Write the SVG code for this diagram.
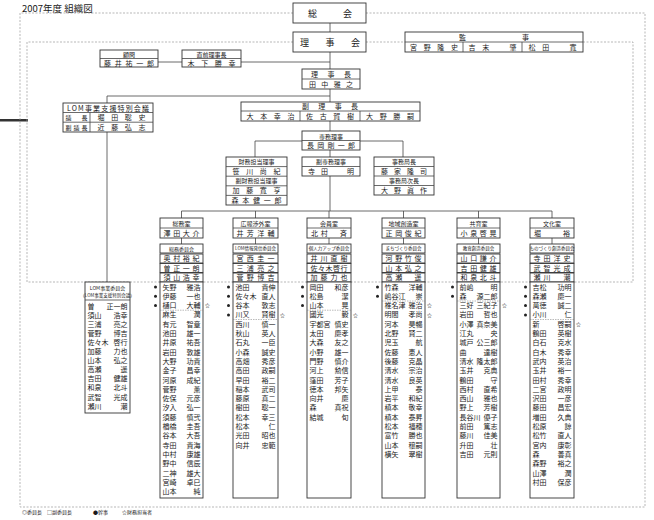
<svg xmlns="http://www.w3.org/2000/svg" width="654" height="520" viewBox="0 0 654 520">
<style>
.t{font-family:"Noto Sans CJK JP","Noto Sans",sans-serif;fill:#1a1a1a}
.f9{font-size:9px}.f7{font-size:7px}.f6{font-size:6px}.f5{font-size:5px}.f4{font-size:4.5px}
.c{text-anchor:middle}.e{text-anchor:end}
.b{fill:#fff;stroke:#333;stroke-width:0.9}
.ln{stroke:#444;stroke-width:0.8;fill:none}
.dl{stroke:#999;stroke-width:0.7;stroke-dasharray:2 1.5;fill:none}
.sep{stroke:#777;stroke-width:0.5;stroke-dasharray:1.5 1;fill:none}
.bu{fill:#222}
</style>
<rect width="654" height="520" fill="#fff"/>
<text class="t" x="22" y="11.5" font-size="9.5" fill="#333">2007年度 組織図</text>
<rect x="0" y="119" width="28" height="2.5" fill="#333"/>

<g id="frames">
<polyline class="dl" points="293,13 20,13 20,507 645,507 645,13 366,13"/>
<polyline class="dl" points="293,42 27,42 27,282 633,282 633,42 583,42"/>
<line class="dl" x1="366" y1="42" x2="405" y2="42"/>
</g>

<g id="connectors">
<line class="ln" x1="330" y1="23" x2="330" y2="32"/>
<line class="ln" x1="330" y1="52" x2="330" y2="69"/>
<line class="ln" x1="158" y1="62" x2="330" y2="62"/>
<line class="ln" x1="330" y1="89" x2="330" y2="102"/>
<line class="ln" x1="107" y1="96" x2="330" y2="96"/>
<line class="ln" x1="107" y1="96" x2="107" y2="103"/>
<line class="ln" x1="107" y1="132" x2="107" y2="282"/>
<line class="ln" x1="330" y1="121" x2="330" y2="131"/>
<line class="ln" x1="255" y1="141" x2="302" y2="141"/>
<line class="ln" x1="360" y1="141" x2="403" y2="141"/>
<line class="ln" x1="255" y1="141" x2="255" y2="157"/>
<line class="ln" x1="403" y1="141" x2="403" y2="157"/>
<line class="ln" x1="330" y1="150" x2="330" y2="157"/>
<line class="ln" x1="330" y1="176" x2="330" y2="211"/>
<line class="ln" x1="181.5" y1="211" x2="552" y2="211"/>
<path class="ln" d="M181.5 211V218M255.5 211V218M329 211V218M403.5 211V218M478.5 211V218M552 211V218"/>
<path class="ln" d="M181.5 238V244M255.5 238V244M329 238V244M403.5 238V244M478.5 238V244M552 238V244"/>
</g>

<g id="soukai">
<rect class="b" x="293" y="3" width="73" height="20"/>
<text class="t f9 c" x="330" y="16.5" textLength="44" lengthAdjust="spacing">総会</text>
</g>
<g id="rijikai">
<rect class="b" x="293" y="32" width="73" height="20"/>
<text class="t f9 c" x="330" y="45.5" textLength="60" lengthAdjust="spacing">理事会</text>
</g>
<g id="komon">
<rect class="b" x="100" y="50" width="58" height="17"/>
<line class="ln" x1="100" y1="58.5" x2="158" y2="58.5"/>
<text class="t f6 c" x="129" y="56.5">顧問</text>
<text class="t f7 c" x="129" y="65.5" textLength="50" lengthAdjust="spacing">藤井祐一郎</text>
</g>
<g id="chokuzen">
<rect class="b" x="182" y="50" width="59" height="17"/>
<line class="ln" x1="182" y1="58.5" x2="241" y2="58.5"/>
<text class="t f6 c" x="211.5" y="56.5">直前理事長</text>
<text class="t f7 c" x="211.5" y="65.5" textLength="48" lengthAdjust="spacing">木下勝幸</text>
</g>
<g id="kanji">
<rect class="b" x="405" y="32" width="178" height="20"/>
<line class="ln" x1="405" y1="42" x2="583" y2="42"/>
<line class="ln" x1="463" y1="42" x2="463" y2="52"/>
<line class="ln" x1="522" y1="42" x2="522" y2="52"/>
<text class="t f7 c" x="494" y="40" textLength="70" lengthAdjust="spacing">監事</text>
<text class="t f7 c" x="434" y="50" textLength="48" lengthAdjust="spacing">宮野隆史</text>
<text class="t f7 c" x="492.5" y="50" textLength="48" lengthAdjust="spacing">吉末　肇</text>
<text class="t f7 c" x="552.5" y="50" textLength="48" lengthAdjust="spacing">松田　寛</text>
</g>
<g id="rijicho">
<rect class="b" x="302" y="69" width="58" height="20"/>
<line class="ln" x1="302" y1="79" x2="360" y2="79"/>
<text class="t f7 c" x="331" y="77" textLength="40" lengthAdjust="spacing">理事長</text>
<text class="t f7 c" x="331" y="87" textLength="44" lengthAdjust="spacing">田中雅之</text>
</g>
<g id="fukurijicho">
<rect class="b" x="241" y="102" width="179" height="19"/>
<line class="ln" x1="241" y1="111" x2="420" y2="111"/>
<line class="ln" x1="300" y1="111" x2="300" y2="121"/>
<line class="ln" x1="360" y1="111" x2="360" y2="121"/>
<text class="t f7 c" x="330" y="109.3" textLength="56" lengthAdjust="spacing">副理事長</text>
<text class="t f7 c" x="270.5" y="119" textLength="48" lengthAdjust="spacing">大本幸治</text>
<text class="t f7 c" x="330" y="119" textLength="48" lengthAdjust="spacing">佐古賀樹</text>
<text class="t f7 c" x="390" y="119" textLength="48" lengthAdjust="spacing">大野勝嗣</text>
</g>
<g id="lom-kaigi">
<rect class="b" x="63" y="103" width="90" height="29"/>
<line class="ln" x1="63" y1="112.5" x2="153" y2="112.5"/>
<line class="ln" x1="63" y1="122.2" x2="153" y2="122.2"/>
<line class="ln" x1="90" y1="112.5" x2="90" y2="132"/>
<text class="t f7 c" x="108" y="110.5" textLength="82" lengthAdjust="spacing">LOM事業支援特別会議</text>
<text class="t f6 c" x="76.5" y="120.2" textLength="22" lengthAdjust="spacing">議長</text>
<text class="t f7 c" x="121.5" y="120.4" textLength="48" lengthAdjust="spacing">堀田聡史</text>
<text class="t f6 c" x="76.5" y="129.8" textLength="22" lengthAdjust="spacing">副議長</text>
<text class="t f7 c" x="121.5" y="130" textLength="48" lengthAdjust="spacing">近藤弘志</text>
</g>
<g id="senmu">
<rect class="b" x="302" y="131" width="58" height="19"/>
<line class="ln" x1="302" y1="140.5" x2="360" y2="140.5"/>
<text class="t f6 c" x="331" y="138.5">専務理事</text>
<text class="t f7 c" x="331" y="148" textLength="48" lengthAdjust="spacing">長岡剛一郎</text>
</g>
<g id="zaimu">
<rect class="b" x="226" y="157" width="61" height="48"/>
<path class="ln" d="M226 166.6H287M226 176.2H287M226 185.8H287M226 195.4H287"/>
<text class="t f6 c" x="256.5" y="164.2">財務担当理事</text>
<text class="t f7 c" x="256.5" y="174" textLength="48" lengthAdjust="spacing">笹川尚紀</text>
<text class="t f6 c" x="256.5" y="183.4">副財務担当理事</text>
<text class="t f7 c" x="256.5" y="193.2" textLength="48" lengthAdjust="spacing">加藤寛亨</text>
<text class="t f7 c" x="256.5" y="202.8" textLength="50" lengthAdjust="spacing">森本健一郎</text>
</g>
<g id="fukusenmu">
<rect class="b" x="302" y="157" width="58" height="19"/>
<line class="ln" x1="302" y1="166.5" x2="360" y2="166.5"/>
<text class="t f6 c" x="331" y="164.3">副専務理事</text>
<text class="t f7 c" x="331" y="174" textLength="46" lengthAdjust="spacing">寺田　明</text>
</g>
<g id="jimukyoku">
<rect class="b" x="374" y="157" width="60" height="38"/>
<path class="ln" d="M374 166.5H434M374 176H434M374 185.5H434"/>
<text class="t f6 c" x="404" y="164.3">事務局長</text>
<text class="t f7 c" x="404" y="173.8" textLength="46" lengthAdjust="spacing">藤家隆司</text>
<text class="t f6 c" x="404" y="183.3">事務局次長</text>
<text class="t f7 c" x="404" y="192.8" textLength="46" lengthAdjust="spacing">大野眞作</text>
</g>

<g id="lom-iinkai" transform="translate(85,0)">
<rect class="b" x="0" y="282" width="45" height="131"/>
<line class="ln" x1="0" y1="300" x2="45" y2="300"/>
<text class="t f5 c" x="22.5" y="289.5">LOM事業委員会</text>
<text class="t f4 c" x="22.5" y="297.3">（LOM事業支援特別会議）</text>
<text class="t f7"><tspan x="2.5" y="308.5">曽</tspan><tspan x="2.5" y="317.6">須山</tspan><tspan x="2.5" y="326.7">三浦</tspan><tspan x="2.5" y="335.8">菅野</tspan><tspan x="2.5" y="344.9">佐々木</tspan><tspan x="2.5" y="354">加藤</tspan><tspan x="2.5" y="363.1">山本</tspan><tspan x="2.5" y="372.2">高瀬</tspan><tspan x="2.5" y="381.3">吉田</tspan><tspan x="2.5" y="390.4">和泉</tspan><tspan x="2.5" y="399.5">武智</tspan><tspan x="2.5" y="408.6">瀬川</tspan></text>
<text class="t f7 e"><tspan x="42.5" y="308.5">正一朗</tspan><tspan x="42.5" y="317.6">浩幸</tspan><tspan x="42.5" y="326.7">亮之</tspan><tspan x="42.5" y="335.8">博吉</tspan><tspan x="42.5" y="344.9">啓行</tspan><tspan x="42.5" y="354">力也</tspan><tspan x="42.5" y="363.1">弘之</tspan><tspan x="42.5" y="372.2">遥</tspan><tspan x="42.5" y="381.3">健雄</tspan><tspan x="42.5" y="390.4">北斗</tspan><tspan x="42.5" y="399.5">光成</tspan><tspan x="42.5" y="408.6">潮</tspan></text>
</g>

<g id="soumu" transform="translate(160,0)">
<rect class="b" x="0" y="218" width="43" height="20"/><line class="ln" x1="0" y1="228" x2="43" y2="228"/>
<text class="t f6 c" x="21.5" y="225.5">総務室</text>
<text class="t f7 c" x="21.5" y="235.8" textLength="36" lengthAdjust="spacing">澤田大介</text>
<rect class="b" x="0" y="244" width="43" height="9"/><text class="t f5 c" x="21.5" y="250.5">総務委員会</text>
<rect class="b" x="0" y="254" width="43" height="9"/><text class="t f7 c" x="21.5" y="261.3" textLength="36" lengthAdjust="spacing">奥村裕紀</text>
<rect class="b" x="0" y="263.5" width="43" height="9"/><text class="t f7 c" x="21.5" y="270.8" textLength="36" lengthAdjust="spacing">曽正一朗</text>
<rect class="b" x="0" y="273" width="43" height="9"/><text class="t f7 c" x="21.5" y="280.3" textLength="36" lengthAdjust="spacing">須山浩幸</text>
<rect class="b" x="0" y="282" width="43" height="216"/>
<line class="sep" x1="0" y1="310.2" x2="43" y2="310.2"/>
<circle class="bu" cx="-4.5" cy="287" r="1.5"/><circle class="bu" cx="-4.5" cy="296.3" r="1.5"/><circle class="bu" cx="-4.5" cy="305.6" r="1.5"/>
<text class="t f5" x="45" y="307.4">☆</text>
<text class="t f7"><tspan x="2.5" y="289.5">矢野</tspan><tspan x="2.5" y="298.8">伊藤</tspan><tspan x="2.5" y="308.1">樋口</tspan><tspan x="2.5" y="317.4">麻生</tspan><tspan x="2.5" y="326.7">有元</tspan><tspan x="2.5" y="336">池田</tspan><tspan x="2.5" y="345.3">井原</tspan><tspan x="2.5" y="354.6">岩田</tspan><tspan x="2.5" y="363.9">大野</tspan><tspan x="2.5" y="373.2">金子</tspan><tspan x="2.5" y="382.5">河原</tspan><tspan x="2.5" y="391.8">菅野</tspan><tspan x="2.5" y="401.1">佐保</tspan><tspan x="2.5" y="410.4">汐入</tspan><tspan x="2.5" y="419.7">須藤</tspan><tspan x="2.5" y="429">楢橋</tspan><tspan x="2.5" y="438.3">谷本</tspan><tspan x="2.5" y="447.6">寺田</tspan><tspan x="2.5" y="456.9">中村</tspan><tspan x="2.5" y="466.2">野中</tspan><tspan x="2.5" y="475.5">二神</tspan><tspan x="2.5" y="484.8">宮崎</tspan><tspan x="2.5" y="494.1">山本</tspan></text>
<text class="t f7 e"><tspan x="40.5" y="289.5">雅浩</tspan><tspan x="40.5" y="298.8">一也</tspan><tspan x="40.5" y="308.1">大輔</tspan><tspan x="40.5" y="317.4">潤</tspan><tspan x="40.5" y="326.7">智章</tspan><tspan x="40.5" y="336">雄一</tspan><tspan x="40.5" y="345.3">祐吾</tspan><tspan x="40.5" y="354.6">敦雄</tspan><tspan x="40.5" y="363.9">功貴</tspan><tspan x="40.5" y="373.2">昌幸</tspan><tspan x="40.5" y="382.5">成紀</tspan><tspan x="40.5" y="391.8">薫</tspan><tspan x="40.5" y="401.1">元彦</tspan><tspan x="40.5" y="410.4">弘一</tspan><tspan x="40.5" y="419.7">慎弐</tspan><tspan x="40.5" y="429">圭吾</tspan><tspan x="40.5" y="438.3">大吾</tspan><tspan x="40.5" y="447.6">貴海</tspan><tspan x="40.5" y="456.9">康雄</tspan><tspan x="40.5" y="466.2">信辰</tspan><tspan x="40.5" y="475.5">雄大</tspan><tspan x="40.5" y="484.8">卓巳</tspan><tspan x="40.5" y="494.1">純</tspan></text>
</g>

<g id="kouhou" transform="translate(233,0)">
<rect class="b" x="0" y="218" width="45" height="20"/><line class="ln" x1="0" y1="228" x2="45" y2="228"/>
<text class="t f6 c" x="22.5" y="225.5">広報渉外室</text>
<text class="t f7 c" x="22.5" y="235.8" textLength="38" lengthAdjust="spacing">井芳洋輔</text>
<rect class="b" x="0" y="244" width="45" height="9"/><text class="t f4 c" x="22.5" y="250.3">LOM情報発信委員会</text>
<rect class="b" x="0" y="254" width="45" height="9"/><text class="t f7 c" x="22.5" y="261.3" textLength="38" lengthAdjust="spacing">宮西圭一</text>
<rect class="b" x="0" y="263.5" width="45" height="9"/><text class="t f7 c" x="22.5" y="270.8" textLength="38" lengthAdjust="spacing">三浦亮之</text>
<rect class="b" x="0" y="273" width="45" height="9"/><text class="t f7 c" x="22.5" y="280.3" textLength="38" lengthAdjust="spacing">菅野博吉</text>
<rect class="b" x="0" y="282" width="45" height="216"/>
<line class="sep" x1="0" y1="319.5" x2="45" y2="319.5"/>
<circle class="bu" cx="-4.5" cy="287" r="1.5"/><circle class="bu" cx="-4.5" cy="296.3" r="1.5"/><circle class="bu" cx="-4.5" cy="305.6" r="1.5"/><circle class="bu" cx="-4.5" cy="314.9" r="1.5"/>
<text class="t f5" x="47" y="316.7">☆</text>
<text class="t f7"><tspan x="2.5" y="289.5">池田</tspan><tspan x="2.5" y="298.8">佐々木</tspan><tspan x="2.5" y="308.1">谷本</tspan><tspan x="2.5" y="317.4">川又</tspan><tspan x="2.5" y="326.7">西川</tspan><tspan x="2.5" y="336">秋山</tspan><tspan x="2.5" y="345.3">石丸</tspan><tspan x="2.5" y="354.6">小森</tspan><tspan x="2.5" y="363.9">高畑</tspan><tspan x="2.5" y="373.2">高田</tspan><tspan x="2.5" y="382.5">早田</tspan><tspan x="2.5" y="391.8">稲本</tspan><tspan x="2.5" y="401.1">藤原</tspan><tspan x="2.5" y="410.4">樹田</tspan><tspan x="2.5" y="419.7">松本</tspan><tspan x="2.5" y="429">松本</tspan><tspan x="2.5" y="438.3">光田</tspan><tspan x="2.5" y="447.6">向井</tspan></text>
<text class="t f7 e"><tspan x="42.5" y="289.5">貴伸</tspan><tspan x="42.5" y="298.8">直人</tspan><tspan x="42.5" y="308.1">敦志</tspan><tspan x="42.5" y="317.4">賢樹</tspan><tspan x="42.5" y="326.7">慎一</tspan><tspan x="42.5" y="336">英人</tspan><tspan x="42.5" y="345.3">一臣</tspan><tspan x="42.5" y="354.6">誠史</tspan><tspan x="42.5" y="363.9">秀彦</tspan><tspan x="42.5" y="373.2">政嗣</tspan><tspan x="42.5" y="382.5">裕二</tspan><tspan x="42.5" y="391.8">武司</tspan><tspan x="42.5" y="401.1">真二</tspan><tspan x="42.5" y="410.4">聡一</tspan><tspan x="42.5" y="419.7">幸三</tspan><tspan x="42.5" y="429">仁</tspan><tspan x="42.5" y="438.3">昭也</tspan><tspan x="42.5" y="447.6">忠範</tspan></text>
</g>

<g id="kaiin" transform="translate(307,0)">
<rect class="b" x="0" y="218" width="44" height="20"/><line class="ln" x1="0" y1="228" x2="44" y2="228"/>
<text class="t f6 c" x="22" y="225.5">会員室</text>
<text class="t f7 c" x="22" y="235.8" textLength="36" lengthAdjust="spacing">北村　斉</text>
<rect class="b" x="0" y="244" width="44" height="9"/><text class="t f4 c" x="22" y="250.3">個人力アップ委員会</text>
<rect class="b" x="0" y="254" width="44" height="9"/><text class="t f7 c" x="22" y="261.3" textLength="37" lengthAdjust="spacing">井川直樹</text>
<rect class="b" x="0" y="263.5" width="44" height="9"/><text class="t f7 c" x="22" y="270.8" textLength="37" lengthAdjust="spacing">佐々木啓行</text>
<rect class="b" x="0" y="273" width="44" height="9"/><text class="t f7 c" x="22" y="280.3" textLength="37" lengthAdjust="spacing">加藤力也</text>
<rect class="b" x="0" y="282" width="44" height="216"/>
<line class="sep" x1="0" y1="310.2" x2="44" y2="310.2"/>
<circle class="bu" cx="-4.5" cy="287" r="1.5"/><circle class="bu" cx="-4.5" cy="296.3" r="1.5"/><circle class="bu" cx="-4.5" cy="305.6" r="1.5"/>
<text class="t f5" x="46" y="316.7">☆</text>
<text class="t f7"><tspan x="2.5" y="289.5">岡田</tspan><tspan x="2.5" y="298.8">松島</tspan><tspan x="2.5" y="308.1">山本</tspan><tspan x="2.5" y="317.4">國光</tspan><tspan x="2.5" y="326.7">宇都宮</tspan><tspan x="2.5" y="336">太田</tspan><tspan x="2.5" y="345.3">大森</tspan><tspan x="2.5" y="354.6">小野</tspan><tspan x="2.5" y="363.9">門野</tspan><tspan x="2.5" y="373.2">河上</tspan><tspan x="2.5" y="382.5">窪田</tspan><tspan x="2.5" y="391.8">徳本</tspan><tspan x="2.5" y="401.1">向井</tspan><tspan x="2.5" y="410.4">森</tspan><tspan x="2.5" y="419.7">結城</tspan></text>
<text class="t f7 e"><tspan x="41.5" y="289.5">和彦</tspan><tspan x="41.5" y="298.8">潔</tspan><tspan x="41.5" y="308.1">晃</tspan><tspan x="41.5" y="317.4">毅</tspan><tspan x="41.5" y="326.7">慎史</tspan><tspan x="41.5" y="336">慶孝</tspan><tspan x="41.5" y="345.3">友之</tspan><tspan x="41.5" y="354.6">雄一</tspan><tspan x="41.5" y="363.9">慎介</tspan><tspan x="41.5" y="373.2">勲信</tspan><tspan x="41.5" y="382.5">芳子</tspan><tspan x="41.5" y="391.8">邦矢</tspan><tspan x="41.5" y="401.1">慶</tspan><tspan x="41.5" y="410.4">真祝</tspan><tspan x="41.5" y="419.7">旬</tspan></text>
</g>

<g id="chiiki" transform="translate(382,0)">
<rect class="b" x="0" y="218" width="43" height="20"/><line class="ln" x1="0" y1="228" x2="43" y2="228"/>
<text class="t f6 c" x="21.5" y="225.5">地域創造室</text>
<text class="t f7 c" x="21.5" y="235.8" textLength="36" lengthAdjust="spacing">正岡俊紀</text>
<rect class="b" x="0" y="244" width="43" height="9"/><text class="t f4 c" x="21.5" y="250.3">まちづくり委員会</text>
<rect class="b" x="0" y="254" width="43" height="9"/><text class="t f7 c" x="21.5" y="261.3" textLength="36" lengthAdjust="spacing">河野竹俊</text>
<rect class="b" x="0" y="263.5" width="43" height="9"/><text class="t f7 c" x="21.5" y="270.8" textLength="36" lengthAdjust="spacing">山本弘之</text>
<rect class="b" x="0" y="273" width="43" height="9"/><text class="t f7 c" x="21.5" y="280.3" textLength="36" lengthAdjust="spacing">高瀬　遥</text>
<rect class="b" x="0" y="282" width="43" height="216"/>
<line class="sep" x1="0" y1="301" x2="43" y2="301"/>
<circle class="bu" cx="-4.5" cy="287" r="1.5"/><circle class="bu" cx="-4.5" cy="296.3" r="1.5"/>
<text class="t f5" x="45" y="307.4">☆</text><text class="t f5" x="45" y="316.7">☆</text>
<text class="t f7"><tspan x="2.5" y="289.5">竹森</tspan><tspan x="2.5" y="298.8">嶋谷江</tspan><tspan x="2.5" y="308.1">椎名津</tspan><tspan x="2.5" y="317.4">明間</tspan><tspan x="2.5" y="326.7">河本</tspan><tspan x="2.5" y="336">北野</tspan><tspan x="2.5" y="345.3">児玉</tspan><tspan x="2.5" y="354.6">佐藤</tspan><tspan x="2.5" y="363.9">後藤</tspan><tspan x="2.5" y="373.2">清水</tspan><tspan x="2.5" y="382.5">清水</tspan><tspan x="2.5" y="391.8">上甲</tspan><tspan x="2.5" y="401.1">岩平</tspan><tspan x="2.5" y="410.4">槙本</tspan><tspan x="2.5" y="419.7">槙本</tspan><tspan x="2.5" y="429">松本</tspan><tspan x="2.5" y="438.3">富竹</tspan><tspan x="2.5" y="447.6">山本</tspan><tspan x="2.5" y="456.9">横矢</tspan></text>
<text class="t f7 e"><tspan x="40.5" y="289.5">洋輔</tspan><tspan x="40.5" y="298.8">崇</tspan><tspan x="40.5" y="308.1">雅治</tspan><tspan x="40.5" y="317.4">孝尚</tspan><tspan x="40.5" y="326.7">昊暢</tspan><tspan x="40.5" y="336">賢二</tspan><tspan x="40.5" y="345.3">航</tspan><tspan x="40.5" y="354.6">恵人</tspan><tspan x="40.5" y="363.9">克晶</tspan><tspan x="40.5" y="373.2">宗治</tspan><tspan x="40.5" y="382.5">良英</tspan><tspan x="40.5" y="391.8">泰</tspan><tspan x="40.5" y="401.1">和紀</tspan><tspan x="40.5" y="410.4">敬幸</tspan><tspan x="40.5" y="419.7">泰昇</tspan><tspan x="40.5" y="429">福穂</tspan><tspan x="40.5" y="438.3">勝也</tspan><tspan x="40.5" y="447.6">穣嗣</tspan><tspan x="40.5" y="456.9">翠樹</tspan></text>
</g>

<g id="kyouiku" transform="translate(457,0)">
<rect class="b" x="0" y="218" width="43" height="20"/><line class="ln" x1="0" y1="228" x2="43" y2="228"/>
<text class="t f6 c" x="21.5" y="225.5">共育室</text>
<text class="t f7 c" x="21.5" y="235.8" textLength="36" lengthAdjust="spacing">小泉啓晃</text>
<rect class="b" x="0" y="244" width="43" height="9"/><text class="t f4 c" x="21.5" y="250.3">教育創造委員会</text>
<rect class="b" x="0" y="254" width="43" height="9"/><text class="t f7 c" x="21.5" y="261.3" textLength="36" lengthAdjust="spacing">山口謙介</text>
<rect class="b" x="0" y="263.5" width="43" height="9"/><text class="t f7 c" x="21.5" y="270.8" textLength="36" lengthAdjust="spacing">吉田健雄</text>
<rect class="b" x="0" y="273" width="43" height="9"/><text class="t f7 c" x="21.5" y="280.3" textLength="36" lengthAdjust="spacing">和泉北斗</text>
<rect class="b" x="0" y="282" width="43" height="216"/>
<line class="sep" x1="0" y1="301" x2="43" y2="301"/>
<circle class="bu" cx="-4.5" cy="287" r="1.5"/><circle class="bu" cx="-4.5" cy="296.3" r="1.5"/>
<text class="t f5" x="45" y="307.4">☆</text>
<text class="t f7"><tspan x="2.5" y="289.5">前嶋</tspan><tspan x="2.5" y="298.8">森</tspan><tspan x="2.5" y="308.1">三好</tspan><tspan x="2.5" y="317.4">岩田</tspan><tspan x="2.5" y="326.7">小澤</tspan><tspan x="2.5" y="336">江丸</tspan><tspan x="2.5" y="345.3">城戸</tspan><tspan x="2.5" y="354.6">曲</tspan><tspan x="2.5" y="363.9">清水</tspan><tspan x="2.5" y="373.2">玉井</tspan><tspan x="2.5" y="382.5">鶴田</tspan><tspan x="2.5" y="391.8">西村</tspan><tspan x="2.5" y="401.1">西山</tspan><tspan x="2.5" y="410.4">野上</tspan><tspan x="2.5" y="419.7">長谷川</tspan><tspan x="2.5" y="429">前田</tspan><tspan x="2.5" y="438.3">藤川</tspan><tspan x="2.5" y="447.6">升田</tspan><tspan x="2.5" y="456.9">吉田</tspan></text>
<text class="t f7 e"><tspan x="40.5" y="289.5">明</tspan><tspan x="40.5" y="298.8">源二郎</tspan><tspan x="40.5" y="308.1">三紀子</tspan><tspan x="40.5" y="317.4">哲也</tspan><tspan x="40.5" y="326.7">真奈美</tspan><tspan x="40.5" y="336">央</tspan><tspan x="40.5" y="345.3">公三郎</tspan><tspan x="40.5" y="354.6">達樹</tspan><tspan x="40.5" y="363.9">隆太郎</tspan><tspan x="40.5" y="373.2">克典</tspan><tspan x="40.5" y="382.5">守</tspan><tspan x="40.5" y="391.8">直希</tspan><tspan x="40.5" y="401.1">雅也</tspan><tspan x="40.5" y="410.4">芳樹</tspan><tspan x="40.5" y="419.7">優子</tspan><tspan x="40.5" y="429">篤志</tspan><tspan x="40.5" y="438.3">佳美</tspan><tspan x="40.5" y="447.6">壮</tspan><tspan x="40.5" y="456.9">元則</tspan></text>
</g>

<g id="bunka" transform="translate(530,0)">
<rect class="b" x="0" y="218" width="44" height="20"/><line class="ln" x1="0" y1="228" x2="44" y2="228"/>
<text class="t f6 c" x="22" y="225.5">文化室</text>
<text class="t f7 c" x="22" y="235.8" textLength="36" lengthAdjust="spacing">堀　裕</text>
<rect class="b" x="0" y="244" width="44" height="9"/><text class="t f4 c" x="22" y="250.3">ものづくり創造委員会</text>
<rect class="b" x="0" y="254" width="44" height="9"/><text class="t f7 c" x="22" y="261.3" textLength="37" lengthAdjust="spacing">寺田洋史</text>
<rect class="b" x="0" y="263.5" width="44" height="9"/><text class="t f7 c" x="22" y="270.8" textLength="37" lengthAdjust="spacing">武智光成</text>
<rect class="b" x="0" y="273" width="44" height="9"/><text class="t f7 c" x="22" y="280.3" textLength="37" lengthAdjust="spacing">瀬川　潮</text>
<rect class="b" x="0" y="282" width="44" height="216"/>
<line class="sep" x1="0" y1="319.5" x2="44" y2="319.5"/>
<circle class="bu" cx="-4.5" cy="287" r="1.5"/><circle class="bu" cx="-4.5" cy="296.3" r="1.5"/><circle class="bu" cx="-4.5" cy="305.6" r="1.5"/><circle class="bu" cx="-4.5" cy="314.9" r="1.5"/>
<text class="t f5" x="46" y="326">☆</text>
<text class="t f7"><tspan x="2.5" y="289.5">吉松</tspan><tspan x="2.5" y="298.8">森瀬</tspan><tspan x="2.5" y="308.1">萬徳</tspan><tspan x="2.5" y="317.4">小川</tspan><tspan x="2.5" y="326.7">新</tspan><tspan x="2.5" y="336">鶴田</tspan><tspan x="2.5" y="345.3">白石</tspan><tspan x="2.5" y="354.6">白木</tspan><tspan x="2.5" y="363.9">武内</tspan><tspan x="2.5" y="373.2">玉井</tspan><tspan x="2.5" y="382.5">田村</tspan><tspan x="2.5" y="391.8">二宮</tspan><tspan x="2.5" y="401.1">沢田</tspan><tspan x="2.5" y="410.4">藤田</tspan><tspan x="2.5" y="419.7">増田</tspan><tspan x="2.5" y="429">松原</tspan><tspan x="2.5" y="438.3">松竹</tspan><tspan x="2.5" y="447.6">宮内</tspan><tspan x="2.5" y="456.9">森</tspan><tspan x="2.5" y="466.2">森野</tspan><tspan x="2.5" y="475.5">山澤</tspan><tspan x="2.5" y="484.8">村田</tspan></text>
<text class="t f7 e"><tspan x="41.5" y="289.5">功明</tspan><tspan x="41.5" y="298.8">慶一</tspan><tspan x="41.5" y="308.1">誠二</tspan><tspan x="41.5" y="317.4">仁</tspan><tspan x="41.5" y="326.7">啓嗣</tspan><tspan x="41.5" y="336">英樹</tspan><tspan x="41.5" y="345.3">克水</tspan><tspan x="41.5" y="354.6">秀幸</tspan><tspan x="41.5" y="363.9">英治</tspan><tspan x="41.5" y="373.2">裕一</tspan><tspan x="41.5" y="382.5">秀幸</tspan><tspan x="41.5" y="391.8">政明</tspan><tspan x="41.5" y="401.1">一彦</tspan><tspan x="41.5" y="410.4">昌宏</tspan><tspan x="41.5" y="419.7">久典</tspan><tspan x="41.5" y="429">諒</tspan><tspan x="41.5" y="438.3">直人</tspan><tspan x="41.5" y="447.6">康彰</tspan><tspan x="41.5" y="456.9">善真</tspan><tspan x="41.5" y="466.2">裕之</tspan><tspan x="41.5" y="475.5">潤</tspan><tspan x="41.5" y="484.8">保彦</tspan></text>
</g>

<g id="legend">
<text class="t f5" x="22" y="514">◎委員長</text>
<text class="t f5" x="47" y="514">□副委員長</text>
<text class="t f5" x="93" y="514">●幹事</text>
<text class="t f5" x="122" y="514">☆財務担当者</text>
</g>
</svg>
